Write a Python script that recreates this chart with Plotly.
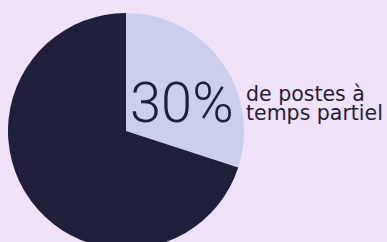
import plotly.graph_objects as go

labels = ["Temps partiel", "Temps plein"]
values = [30, 70]
colors = ["#cbcfec", "#1e1f3b"]
caption_lines = ["de postes à", "temps partiel"]

BG = "#f0e2f8"
TXT = "#1e1f3b"
W, H = 387, 249
TOP = 13
PH = H - TOP


def py(ypx):
    return 1 - (ypx - TOP) / PH


fig = go.Figure(go.Pie(
    labels=labels, values=values, sort=False, direction="clockwise", rotation=0,
    marker=dict(colors=colors, line=dict(width=0)),
    textinfo="none", hoverinfo="label+percent",
    domain=dict(x=[8 / W, 244 / W], y=[0, 1]),
))

fig.add_annotation(
    x=128 / W, y=py(102.5), xref="paper", yref="paper",
    text=f"{values[0]}%", showarrow=False, xanchor="left", yanchor="middle",
    font=dict(family="Roboto, sans-serif", size=56, weight=300, color=TXT),
)
for i, line in enumerate(caption_lines):
    fig.add_annotation(
        x=244 / W, y=py(94 + 19 * i), xref="paper", yref="paper",
        text=line, showarrow=False, xanchor="left", yanchor="middle",
        font=dict(family="DejaVu Sans, sans-serif", size=20.5, color=TXT),
    )

fig.update_layout(
    width=W, height=H, margin=dict(l=0, r=0, t=TOP, b=0),
    paper_bgcolor=BG, plot_bgcolor=BG, showlegend=False,
)

fig.write_html(
    "out.html",
    config=dict(displayModeBar=False),
    post_script="document.body.style.overflow='hidden';document.documentElement.style.overflow='hidden';document.body.style.margin='0';",
)
